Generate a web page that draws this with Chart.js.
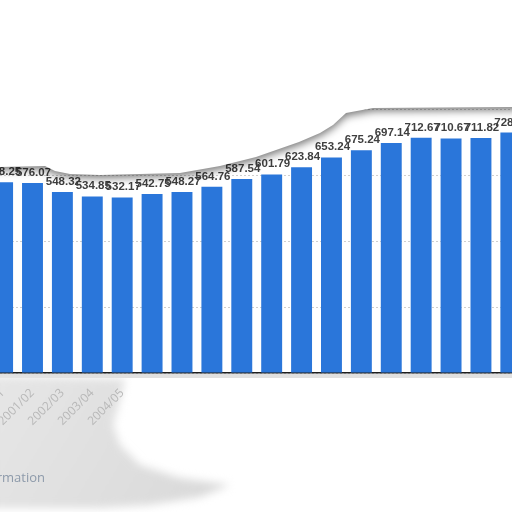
<!DOCTYPE html>
<html>
<head>
<meta charset="utf-8">
<script src="https://cdn.jsdelivr.net/npm/chart.js@4/dist/chart.umd.min.js"></script>
<style>
  html, body { margin: 0; padding: 0; background: #fff; overflow: hidden; width: 512px; height: 512px; }
  #wrap { position: absolute; left: -20px; top: 0; width: 560px; height: 512px; }
</style>
</head>
<body>
<div id="wrap"><canvas id="c"></canvas></div>
<script>
// ---- data ----
const categories = ['2000/01','2001/02','2002/03','2003/04','2004/05','2005/06','2006/07','2007/08','2008/09',
  '2009/10','2010/11','2011/12','2012/13','2013/14','2014/15','2015/16','2016/17','2017/18'];
const values = [578.25, 576.07, 548.32, 534.85, 532.17, 542.75, 548.27, 564.76, 587.54,
  601.79, 623.84, 653.24, 675.24, 697.14, 712.67, 710.67, 711.82, 728.46];
const yTicks = [0, 200, 400, 600, 800];
const footerText = 'Additional Information';

const OFFSET = 20; // canvas is shifted left by this many px

const valueLabels = {
  id: 'valueLabels',
  afterDatasetsDraw(chart) {
    const ctx = chart.ctx;
    const meta = chart.getDatasetMeta(0);
    ctx.save();
    ctx.font = 'bold 11.5px "Liberation Sans", Arial, sans-serif';
    ctx.fillStyle = '#3f3f3f';
    ctx.textAlign = 'center';
    ctx.textBaseline = 'alphabetic';
    meta.data.forEach((bar, i) => {
      ctx.fillText(String(chart.data.datasets[0].data[i]), bar.x + 1, bar.y - 7);
    });
    ctx.restore();
  }
};

const decor = {
  id: 'decor',
  beforeDraw(chart) {
    const ctx = chart.ctx;
    ctx.save();
    ctx.translate(OFFSET, 0);
    // gray band under axis
    ctx.fillStyle = '#e0e0e0';
    ctx.fillRect(-OFFSET, 374, 560, 4);
    // gray blob bottom-left
    ctx.filter = 'blur(4px)';
    const g = ctx.createLinearGradient(0, 380, 200, 500);
    g.addColorStop(0, '#e6e6e6');
    g.addColorStop(1, '#dadada');
    ctx.fillStyle = g;
    ctx.beginPath();
    const pts = [[-10,376],[125,379],[120,400],[113,425],[120,445],[140,465],[180,478],[230,485],[200,497],[150,505],[100,508],[-10,508]];
    ctx.moveTo(pts[0][0], pts[0][1]);
    pts.slice(1).forEach(p => ctx.lineTo(p[0], p[1]));
    ctx.closePath();
    ctx.fill();
    ctx.restore();
  },
  afterDraw(chart) {
    const ctx = chart.ctx;
    ctx.save();
    ctx.translate(OFFSET, 0);
    // top white mask with shadowed edge
    const curve = [[0,167],[45,166],[55,171],[70,174],[100,175],[180,173],[220,166],[256,157],[299,142],[320,133],[333,125],[346,113],[373,108],[512,107]];
    ctx.shadowColor = 'rgba(0,0,0,0.55)';
    ctx.shadowBlur = 8;
    ctx.shadowOffsetY = 3;
    ctx.fillStyle = '#ffffff';
    ctx.beginPath();
    ctx.moveTo(-OFFSET, -50);
    ctx.lineTo(560, -50);
    ctx.lineTo(560, curve[curve.length-1][1]);
    for (let i = curve.length - 1; i >= 0; i--) ctx.lineTo(curve[i][0], curve[i][1]);
    ctx.lineTo(-OFFSET, curve[0][1]);
    ctx.closePath();
    ctx.fill();
    ctx.shadowColor = 'transparent';
    // footer text
    ctx.font = '13px "Open Sans", sans-serif';
    ctx.fillStyle = '#8d9aaa';
    ctx.textAlign = 'right';
    ctx.fillText(footerText, 45, 482);
    ctx.restore();
  }
};

new Chart(document.getElementById('c'), {
  type: 'bar',
  data: {
    labels: categories,
    datasets: [{
      data: values,
      backgroundColor: '#2a76da',
      barPercentage: 0.7,
      categoryPercentage: 1.0
    }]
  },
  options: {
    responsive: true,
    maintainAspectRatio: false,
    animation: false,
    layout: { padding: { left: 7.65, right: 14.2, top: 109, bottom: 0 } },
    plugins: { legend: { display: false }, tooltip: { enabled: false } },
    scales: {
      x: {
        grid: { display: false },
        border: { display: true, color: '#1e1e1e', width: 1.5 },
        ticks: {
          autoSkip: false,
          maxRotation: 45,
          minRotation: 45,
          padding: 5,
          font: { family: '"Open Sans", sans-serif', size: 12 },
          color: ctx => ctx.index <= 4 ? '#b8b8b8' : 'rgba(0,0,0,0)'
        },
        afterFit: s => { s.height = 139; s.paddingLeft = 0; s.paddingRight = 0; }
      },
      y: {
        min: 0,
        max: 800,
        afterBuildTicks: s => { s.ticks = yTicks.map(v => ({ value: v })); },
        ticks: { display: false },
        grid: { color: '#cfcfcf', lineWidth: 1, drawTicks: false },
        border: { display: false, dash: [2, 2] },
        afterFit: s => { s.width = 0; }
      }
    }
  },
  plugins: [decor, valueLabels]
});
</script>
</body>
</html>
